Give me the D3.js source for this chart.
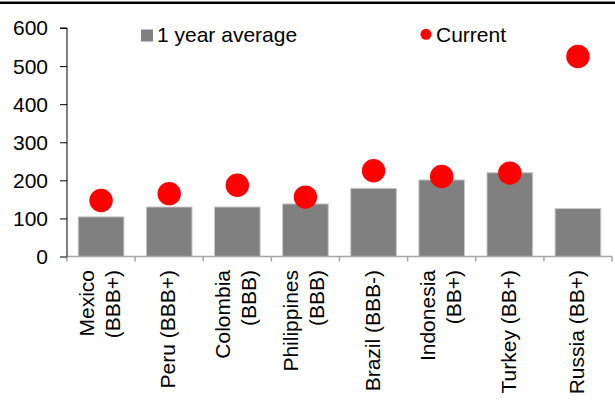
<!DOCTYPE html>
<html>
<head>
<meta charset="utf-8">
<script src="https://cdn.jsdelivr.net/npm/d3@7"></script>
<style>
  body { margin: 0; background: #fff; }
  text { font-family: Arial, "Liberation Sans", sans-serif; fill: #000; }
</style>
</head>
<body>
<div class="chart"></div>
<script>
// data
const countries = [
    ["Mexico", "(BBB+)"],
    ["Peru (BBB+)"],
    ["Colombia", "(BBB)"],
    ["Philippines", "(BBB)"],
    ["Brazil (BBB-)"],
    ["Indonesia", "(BB+)"],
    ["Turkey (BB+)"],
    ["Russia (BB+)"]
]
const yearAverage = [104, 130, 130, 138, 179, 201, 220, 126]
const current = [147, 165, 187, 156, 225, 210, 219, 525]
const yTicks = [0, 100, 200, 300, 400, 500, 600]

const width = 615
const height = 405
const fontSize = 21

const svg = d3.select('.chart').append('svg')
    .attr('width', width)
    .attr('height', height)

// thick rule across the top
svg.append('rect')
    .attr('x', 0).attr('y', 1.5)
    .attr('width', width).attr('height', 2.5)
    .attr('fill', '#000')

const x = d3.scaleBand()
    .domain(d3.range(countries.length))
    .range([67, 612])

const y = d3.scaleLinear()
    .domain([0, 600])
    .range([256.5, 28])

const barW = x.bandwidth() * 0.67

// bars
svg.append('g').selectAll('rect')
    .data(yearAverage)
    .enter()
    .append('rect')
    .attr('x', (d, i) => x(i) + x.bandwidth() / 2 - barW / 2)
    .attr('y', d => y(d))
    .attr('width', barW)
    .attr('height', d => y(0) - y(d))
    .attr('fill', '#808080')
    .attr('stroke', '#c8c8c8')
    .attr('stroke-width', 1)

// x axis (grey) with ticks at band edges
const xAxis = svg.append('g')
xAxis.append('line')
    .attr('x1', 67).attr('x2', 612)
    .attr('y1', y(0)).attr('y2', y(0))
    .attr('stroke', '#a6a6a6').attr('stroke-width', 1.5)
xAxis.selectAll('.xt')
    .data(d3.range(countries.length + 1))
    .enter()
    .append('line')
    .attr('class', 'xt')
    .attr('x1', i => i < countries.length ? x(i) : x.range()[1])
    .attr('x2', i => i < countries.length ? x(i) : x.range()[1])
    .attr('y1', y(0)).attr('y2', y(0) + 5)
    .attr('stroke', '#a6a6a6').attr('stroke-width', 1.5)

// y axis
const yAxis = d3.axisLeft(y)
    .tickValues(yTicks)
    .tickSize(7)
    .tickPadding(12)
const yg = svg.append('g')
    .attr('transform', 'translate(67,0)')
    .call(yAxis)
yg.select('.domain').attr('stroke', '#000').attr('d', `M-7,${y(600)}H0V${y(0)}`)
yg.selectAll('.tick line').attr('stroke', '#000')
yg.selectAll('.tick text')
    .attr('font-size', fontSize)
    .attr('font-family', 'Arial, "Liberation Sans", sans-serif')
    .attr('fill', '#000')
    .attr('dy', '0.33em')

// current dots
svg.append('g').selectAll('circle')
    .data(current)
    .enter()
    .append('circle')
    .attr('cx', (d, i) => x(i) + x.bandwidth() / 2)
    .attr('cy', d => y(d))
    .attr('r', 11.7)
    .attr('fill', '#ff0000')

// category labels, rotated
const labels = svg.append('g').selectAll('text')
    .data(countries)
    .enter()
    .append('text')
    .attr('transform', (d, i) => `translate(${x(i) + x.bandwidth() / 2},270) rotate(-90)`)
    .attr('text-anchor', 'end')
    .attr('font-size', fontSize)
labels.selectAll('tspan')
    .data(d => d.map((t, j) => ({ t: t, j: j, n: d.length })))
    .enter()
    .append('tspan')
    .attr('x', 0)
    .attr('y', d => 6 + (d.j - (d.n - 1) / 2) * 26)
    .text(d => d.t)

// legend
const legend = svg.append('g')
legend.append('rect')
    .attr('x', 141).attr('y', 29.5)
    .attr('width', 12).attr('height', 12)
    .attr('fill', '#808080')
legend.append('text')
    .attr('x', 157).attr('y', 41.7)
    .attr('font-size', fontSize)
    .text('1 year average')
legend.append('circle')
    .attr('cx', 426).attr('cy', 34.3)
    .attr('r', 5.5)
    .attr('fill', '#ff0000')
legend.append('text')
    .attr('x', 436).attr('y', 41.7)
    .attr('font-size', fontSize)
    .text('Current')
</script>
</body>
</html>
